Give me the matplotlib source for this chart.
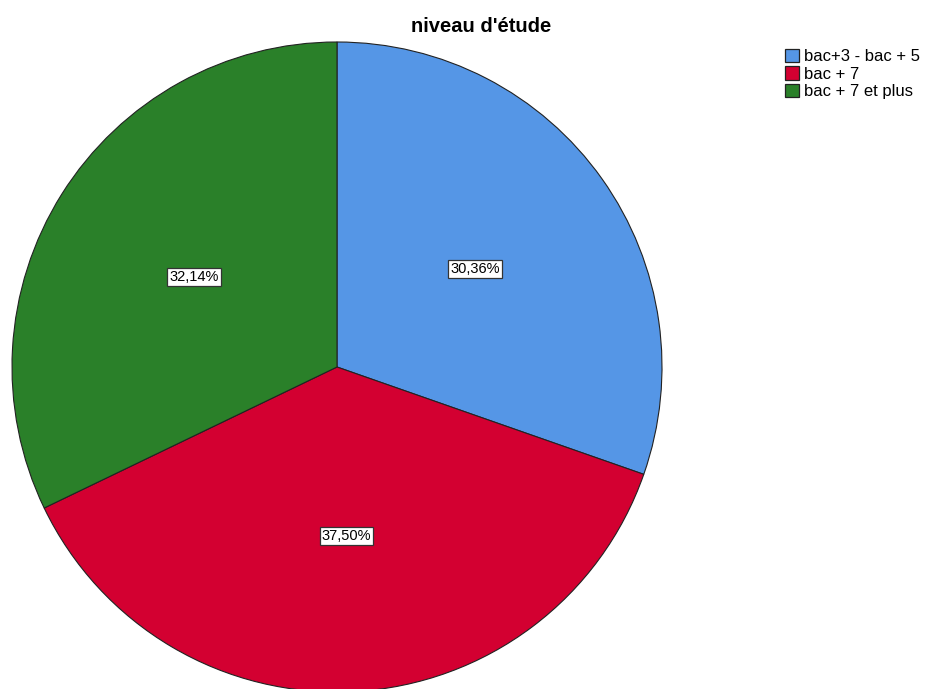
import matplotlib
matplotlib.use("Agg")
import matplotlib.pyplot as plt
from matplotlib.patches import Patch
import numpy as np

plt.rcParams['font.family'] = ['Liberation Sans', 'DejaVu Sans']

# niveau d'étude (effectifs)
categories = ["bac+3 - bac + 5", "bac + 7", "bac + 7 et plus"]
counts = [17, 21, 18]
colors = ["#5596e6", "#d30031", "#2a8029"]

fig = plt.figure(figsize=(9.39, 6.89), dpi=100)
ax = fig.add_axes([12 / 939, -3 / 689, 650 / 939, 650 / 689])

def fmt(p):
    return ("%.2f%%" % p).replace(".", ",")

wedges = ax.pie(counts, colors=colors, startangle=90, counterclock=False,
                wedgeprops=dict(edgecolor="#222222", linewidth=0.8))[0]
total = sum(counts)
for w, c in zip(wedges, counts):
    ang = np.deg2rad((w.theta1 + w.theta2) / 2)
    ax.text(0.52 * np.cos(ang), 0.52 * np.sin(ang), fmt(100 * c / total),
            ha="center", va="center", fontsize=10.5,
            bbox=dict(facecolor="white", edgecolor="#333333", linewidth=0.9, pad=1.6))
ax.set_xlim(-1.0, 1.0)
ax.set_ylim(-1.0, 1.0)
ax.set_aspect("equal")
ax.axis("off")

fig.text(481 / 939, 1 - 26 / 689, "niveau d'étude", ha="center", va="center",
         fontsize=14.5, fontweight="bold")

handles = [Patch(facecolor=c, edgecolor="#222222", linewidth=0.9) for c in colors]
fig.legend(handles, categories, loc="upper left", bbox_to_anchor=(785 / 939, 1 - 49 / 689),
           frameon=False, fontsize=12, handlelength=0.85, handleheight=0.85,
           handletextpad=0.3, labelspacing=0.12, borderaxespad=0, borderpad=0)

fig.savefig("out.png", dpi=100)
